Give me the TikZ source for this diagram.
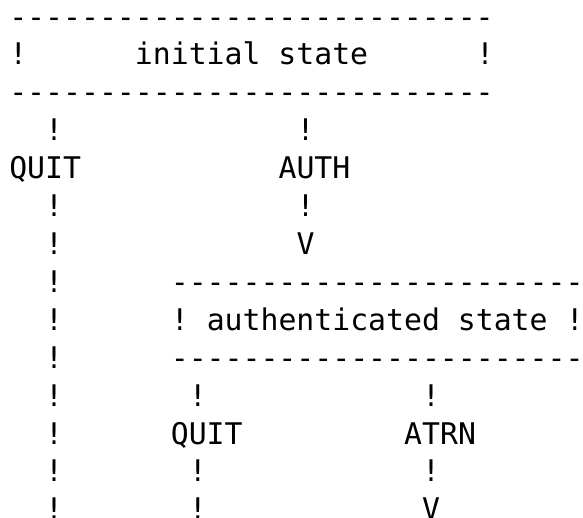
\documentclass[tikz,border=0pt]{standalone}
\usepackage{fontspec}
\newfontfamily\asciifont[Ligatures=TeXOff]{DejaVu Sans Mono}

\begin{document}
\begin{tikzpicture}[x=8.975pt, y=-18.95pt,
    txt/.style={anchor=base west, inner sep=0pt, outer sep=0pt,
                font=\asciifont\fontsize{14.9pt}{18.95pt}\selectfont}]
  \useasboundingbox (-0.518,-0.715) rectangle (31.96,12.926);

  % initial state box
  \node[txt] (inittop) at (0,0) {---------------------------};
  \node[txt] (initl) at (0,1) {!};
  \node[txt] (initname) at (7,1) {initial state};
  \node[txt] (initr) at (26,1) {!};
  \node[txt] (initbot) at (0,2) {---------------------------};

  % left QUIT branch
  \node[txt] (quit) at (0,4) {QUIT};
  \foreach \r in {3,5,6,7,8,9,10,11,12,13}
    \node[txt] (quitbar\r) at (2,\r) {!};

  % AUTH branch
  \node[txt] (authbar3) at (16,3) {!};
  \node[txt] (auth) at (15,4) {AUTH};
  \node[txt] (authbar5) at (16,5) {!};
  \node[txt] (authtip) at (16,6) {V};

  % authenticated state box
  \node[txt] (authtop) at (9,7) {-----------------------};
  \node[txt] (authl) at (9,8) {!};
  \node[txt] (authname) at (11,8) {authenticated state};
  \node[txt] (authr) at (31,8) {!};
  \node[txt] (authbot) at (9,9) {-----------------------};

  % second QUIT branch
  \node[txt] (quittwobar10) at (10,10) {!};
  \node[txt] (quittwo) at (9,11) {QUIT};
  \node[txt] (quittwobar12) at (10,12) {!};
  \node[txt] (quittwobar13) at (10,13) {!};

  % ATRN branch
  \node[txt] (atrnbar10) at (23,10) {!};
  \node[txt] (atrn) at (22,11) {ATRN};
  \node[txt] (atrnbar12) at (23,12) {!};
  \node[txt] (atrntip) at (23,13) {V};
\end{tikzpicture}
\end{document}
